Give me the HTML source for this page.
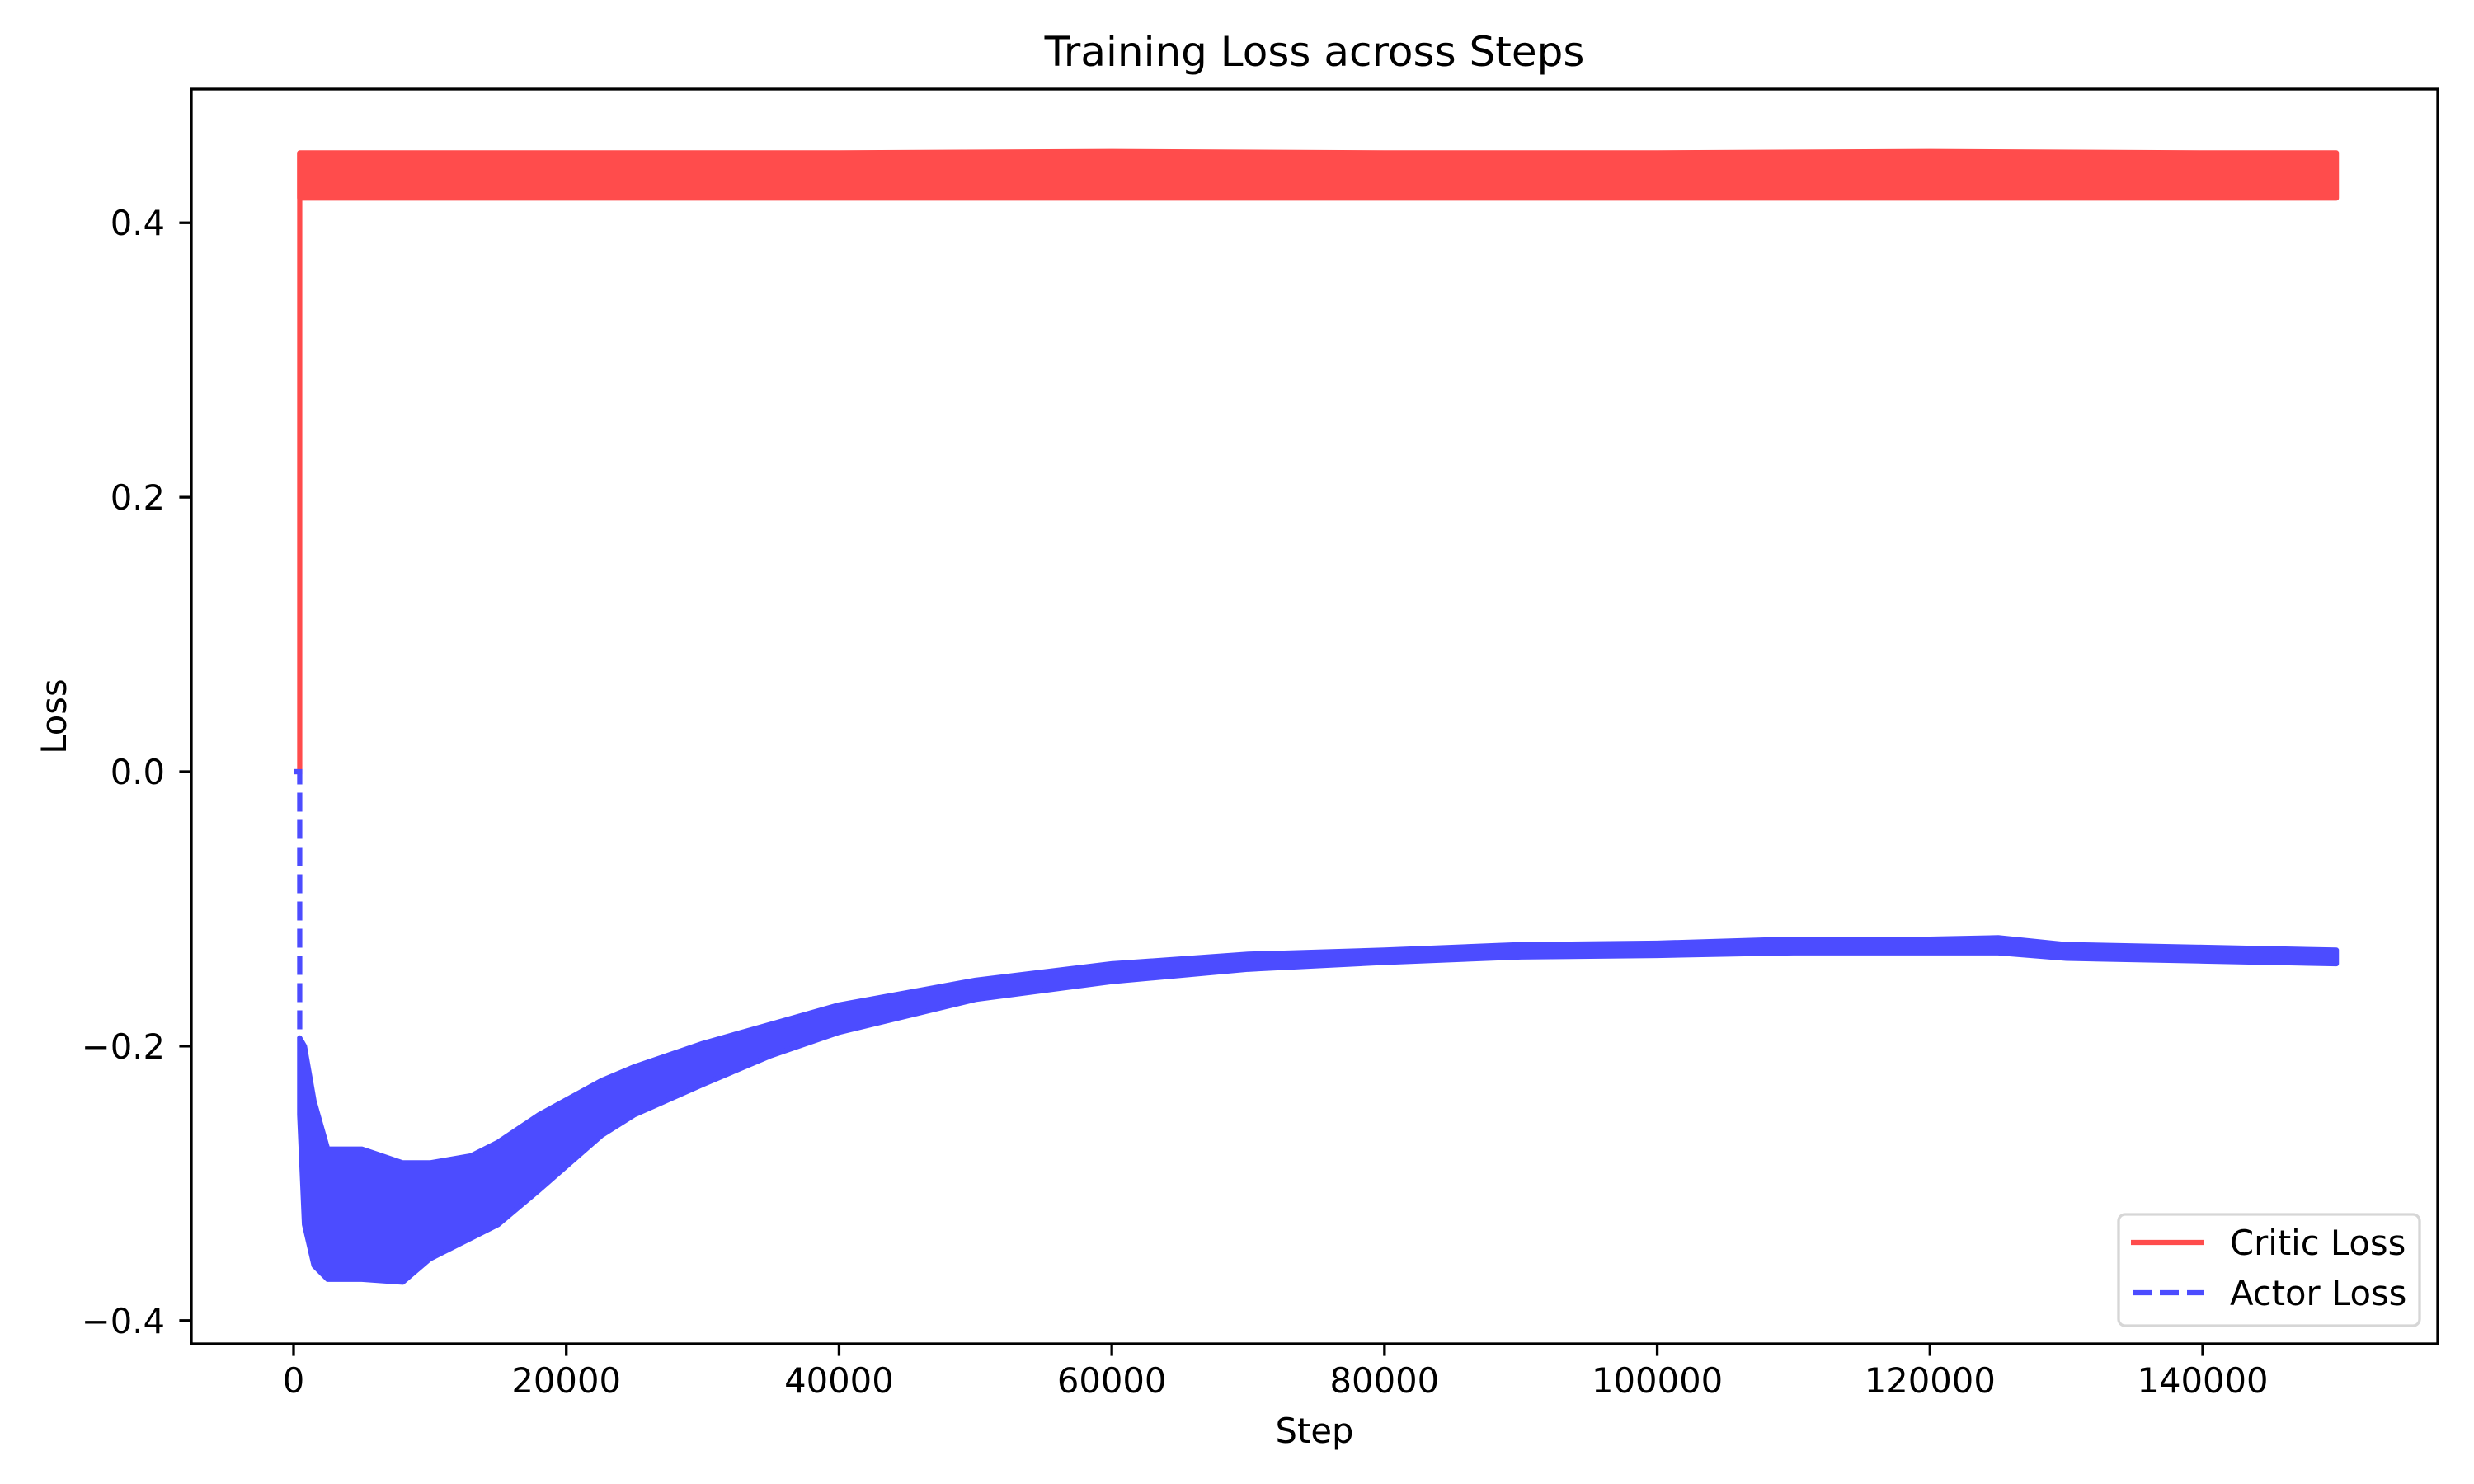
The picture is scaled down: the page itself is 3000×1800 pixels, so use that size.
<!DOCTYPE html>
<html><head><meta charset="utf-8"><style>
html,body{margin:0;padding:0;background:#fff;}
svg{display:block;font-family:"DejaVu Sans","Liberation Sans",sans-serif;}
</style></head><body>
<svg id="chart" width="3000" height="1800" viewBox="0 0 3000 1800" xmlns="http://www.w3.org/2000/svg">
<rect x="0" y="0" width="3000" height="1800" fill="#fff"/>
<text x="1594" y="80" font-size="50" text-anchor="middle">Training Loss across Steps</text>
<g id="plot"></g>
<g id="axes"></g>
<text x="1594" y="1750" font-size="41.7" text-anchor="middle">Step</text>
<text x="0" y="0" font-size="41.7" text-anchor="middle" transform="translate(80,869) rotate(-90)">Loss</text>
<g>
<rect x="2569" y="1473" width="365" height="135" rx="8" fill="#fff" fill-opacity="0.8" stroke="#d6d6d6" stroke-width="3.3"/>
<line x1="2584" y1="1507" x2="2673" y2="1507" stroke="#ff4c4c" stroke-width="6.25"/>
<text x="2704" y="1522" font-size="41.7">Critic Loss</text>
<line x1="2586" y1="1568" x2="2673" y2="1568" stroke="#4c4cff" stroke-width="6.25" stroke-dasharray="23,10"/>
<text x="2704" y="1583" font-size="41.7">Actor Loss</text>
</g>
</svg>
<script>
const xTicks = [0, 20000, 40000, 60000, 80000, 100000, 120000, 140000];
const xTickLabels = ["0","20000","40000","60000","80000","100000","120000","140000"];
const yTicks = [-0.4, -0.2, 0.0, 0.2, 0.4];
const yTickLabels = ["\u22120.4","\u22120.2","0.0","0.2","0.4"];
const startSteps = [0, 450];
const critStartVals = [0, 0];
const actorStartVals = [0, 0];
const critSteps = [450, 20000, 40000, 60000, 80000, 100000, 120000, 140000, 149800];
const critHigh = [0.451, 0.451, 0.451, 0.452, 0.451, 0.451, 0.452, 0.451, 0.451];
const critLow  = [0.418, 0.418, 0.418, 0.418, 0.418, 0.418, 0.418, 0.418, 0.418];
const actorSteps = [450, 800, 1500, 2500, 5000, 8000, 10000, 13000, 15000, 18000, 22600, 25000, 30000, 35000, 40000, 50000, 60000, 70000, 80000, 90000, 100000, 110000, 120000, 125000, 130000, 140000, 149800];
const actorHigh = [-0.194, -0.2, -0.24, -0.275, -0.275, -0.285, -0.285, -0.28, -0.27, -0.25, -0.225, -0.215, -0.198, -0.184, -0.17, -0.152, -0.14, -0.133, -0.13, -0.126, -0.125, -0.122, -0.122, -0.121, -0.126, -0.128, -0.13];
const actorLow  = [-0.25, -0.33, -0.36, -0.37, -0.37, -0.372, -0.355, -0.34, -0.33, -0.305, -0.265, -0.25, -0.228, -0.207, -0.19, -0.166, -0.153, -0.144, -0.139, -0.135, -0.134, -0.132, -0.132, -0.132, -0.136, -0.138, -0.14];

const X0 = 356, XK = 2315/140000;
const Y0 = 936, YK = 1664.4;
const L = 232, R = 2956, T = 108, B = 1630;
function xs(v){ return X0 + v*XK; }
function ys(v){ return Y0 - v*YK; }
const NS = "http://www.w3.org/2000/svg";
function mk(tag, attrs, parent){ const e=document.createElementNS(NS,tag); for(const k in attrs) e.setAttribute(k,attrs[k]); parent.appendChild(e); return e; }
const plot = document.getElementById('plot');
const axes = document.getElementById('axes');

function band(steps, hi, lo){
  const pts = [];
  for(let i=0;i<steps.length;i++) pts.push(xs(steps[i]).toFixed(1)+','+ys(hi[i]).toFixed(1));
  for(let i=steps.length-1;i>=0;i--) pts.push(xs(steps[i]).toFixed(1)+','+ys(lo[i]).toFixed(1));
  return pts.join(' ');
}
const cs = mk('polyline',{points: startSteps.map((s,i)=>xs(s)+','+ys(critStartVals[i])).join(' ')+' '+xs(critSteps[0])+','+ys(critHigh[0]), fill:'none', stroke:'#ff4c4c','stroke-width':6.25}, plot);


const cb = mk('polygon',{points: band(critSteps, critHigh, critLow), fill:'#ff4c4c', stroke:'#ff4c4c','stroke-width':6.25,'stroke-linejoin':'round'}, plot);


const as = mk('polyline',{points: startSteps.map((s,i)=>xs(s)+','+ys(actorStartVals[i])).join(' ')+' '+xs(actorSteps[0])+','+ys(actorHigh[0]), fill:'none', stroke:'#4c4cff','stroke-width':6.25,'stroke-dasharray':'23,10'}, plot);


const ab = mk('polygon',{points: band(actorSteps, actorHigh, actorLow), fill:'#4c4cff', stroke:'#4c4cff','stroke-width':6.25,'stroke-linejoin':'round'}, plot);



const frame = mk('rect',{x:L,y:T,width:R-L,height:B-T,fill:'none',stroke:'#000','stroke-width':3.3}, axes);


xTicks.forEach((v,i)=>{
  const t = mk('line',{x1:xs(v),y1:B,x2:xs(v),y2:B+14.6,stroke:'#000','stroke-width':3.3}, axes);
  
  
  const lb = mk('text',{x:xs(v),y:1689,'font-size':41.7,'text-anchor':'middle'}, axes);
  lb.textContent = xTickLabels[i];
  
  
});
yTicks.forEach((v,i)=>{
  const t = mk('line',{x1:L-14.6,y1:ys(v),x2:L,y2:ys(v),stroke:'#000','stroke-width':3.3}, axes);
  
  
  const lb = mk('text',{x:200,y:ys(v)+15,'font-size':41.7,'text-anchor':'end'}, axes);
  lb.textContent = yTickLabels[i];
  
  
});
</script>
</body></html>
